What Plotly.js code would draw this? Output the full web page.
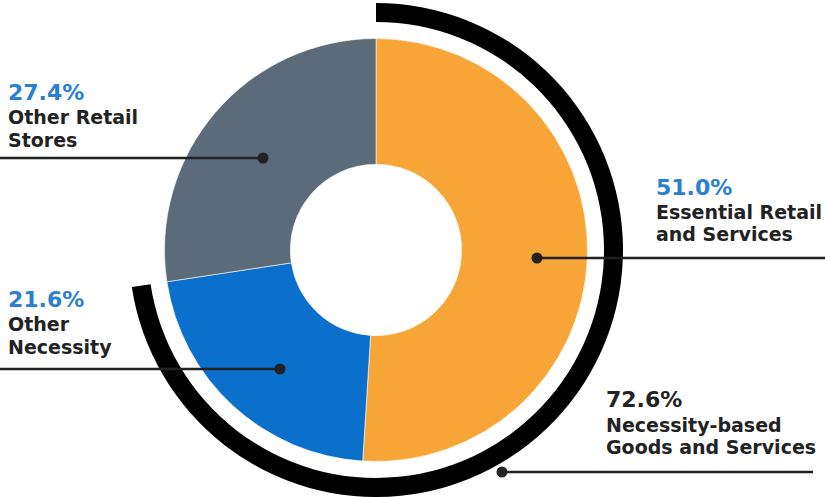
<!DOCTYPE html>
<html>
<head>
<meta charset="utf-8">
<script src="https://cdn.plot.ly/plotly-3.0.1.min.js"></script>
<style>html,body{margin:0;padding:0;background:#fff;}#chart{width:825px;height:497px;}</style>
</head>
<body>
<div id="chart"></div>
<script>
// ---- data ----
const categories = ["Essential Retail and Services", "Other Necessity", "Other Retail Stores"];
const shares = [51.0, 21.6, 27.4];
const sliceColors = ["#F7A536", "#0B6FCC", "#5B6B79"];
const groupLabels = ["Necessity-based Goods and Services", "Rest"];
const groupShares = [72.6, 27.4];
const pctLabels = ["51.0%", "21.6%", "27.4%"];
const groupPct = "72.6%";

// ---- layout helpers (pixel -> paper) ----
const W = 825, H = 497;
const px = x => x / W;
const py = y => 1 - y / H;
const cx = 376, cy = 250;
const rIn = 211.5, rOut = 247, rArcIn = 228;

const inner = {
  type: "pie", values: shares, labels: categories, sort: false, direction: "clockwise",
  rotation: 0, hole: 0.405, textinfo: "none", hoverinfo: "label+percent",
  marker: {colors: sliceColors, line: {color: "#ffffff", width: 0.6}},
  domain: {x: [px(cx - rIn), px(cx + rIn)], y: [py(cy + rIn), py(cy - rIn)]},
  showlegend: false
};
const outer = {
  type: "pie", values: groupShares, labels: groupLabels, sort: false, direction: "clockwise",
  rotation: 0, hole: rArcIn / rOut, textinfo: "none", hoverinfo: "label",
  marker: {colors: ["#000000", "rgba(0,0,0,0)"], line: {width: 0}},
  domain: {x: [px(cx - rOut), px(cx + rOut)], y: [Math.max(0, py(cy + rOut)), py(cy - rOut)]},
  showlegend: false
};

const dark = "#222222", blue = "#2A7FD0";
const fam = "DejaVu Sans, Verdana, sans-serif";
function txt(x, y, text, size, color) {
  return {xref: "paper", yref: "paper", x: px(x), y: py(y), xanchor: "left", yanchor: "middle",
    text: text, showarrow: false, align: "left",
    font: {family: fam, size: size, color: color, weight: 700}};
}
// callouts: [pctText, labelLines, textX, pctY, labelYs, lineY, lineX0, lineX1, dotX, pctColor]
const callouts = [
  [pctLabels[2], ["Other Retail", "Stores"], 6, 92, [117, 140], 158, 0, 263, 263, blue],
  [pctLabels[0], ["Essential Retail", "and Services"], 654, 187, [212, 234], 258, 537, 825, 537, blue],
  [pctLabels[1], ["Other", "Necessity"], 6, 299, [324, 347], 369, 0, 280, 280, blue],
  [groupPct, ["Necessity-based", "Goods and Services"], 604, 399, [425, 447], 472, 502, 813, 502, dark]
];
const annotations = [];
const shapes = [];
callouts.forEach(c => {
  annotations.push(txt(c[2], c[3], c[0], 22, c[9]));
  c[1].forEach((line, i) => annotations.push(txt(c[2], c[4][i], line, 19, dark)));
  shapes.push({type: "line", xref: "paper", yref: "paper", x0: px(c[6]), x1: px(c[7]), y0: py(c[5]), y1: py(c[5]),
    line: {color: dark, width: 2.5}});
  const r = 5.5;
  shapes.push({type: "circle", xref: "paper", yref: "paper", x0: px(c[8] - r), x1: px(c[8] + r),
    y0: py(c[5] + r), y1: py(c[5] - r), fillcolor: dark, line: {color: dark, width: 0}});
});

Plotly.newPlot("chart", [outer, inner], {
  width: W, height: H, margin: {l: 0, r: 0, t: 0, b: 0},
  paper_bgcolor: "#ffffff", plot_bgcolor: "#ffffff",
  showlegend: false, annotations: annotations, shapes: shapes
}, {displayModeBar: false, staticPlot: true});
</script>
</body>
</html>
